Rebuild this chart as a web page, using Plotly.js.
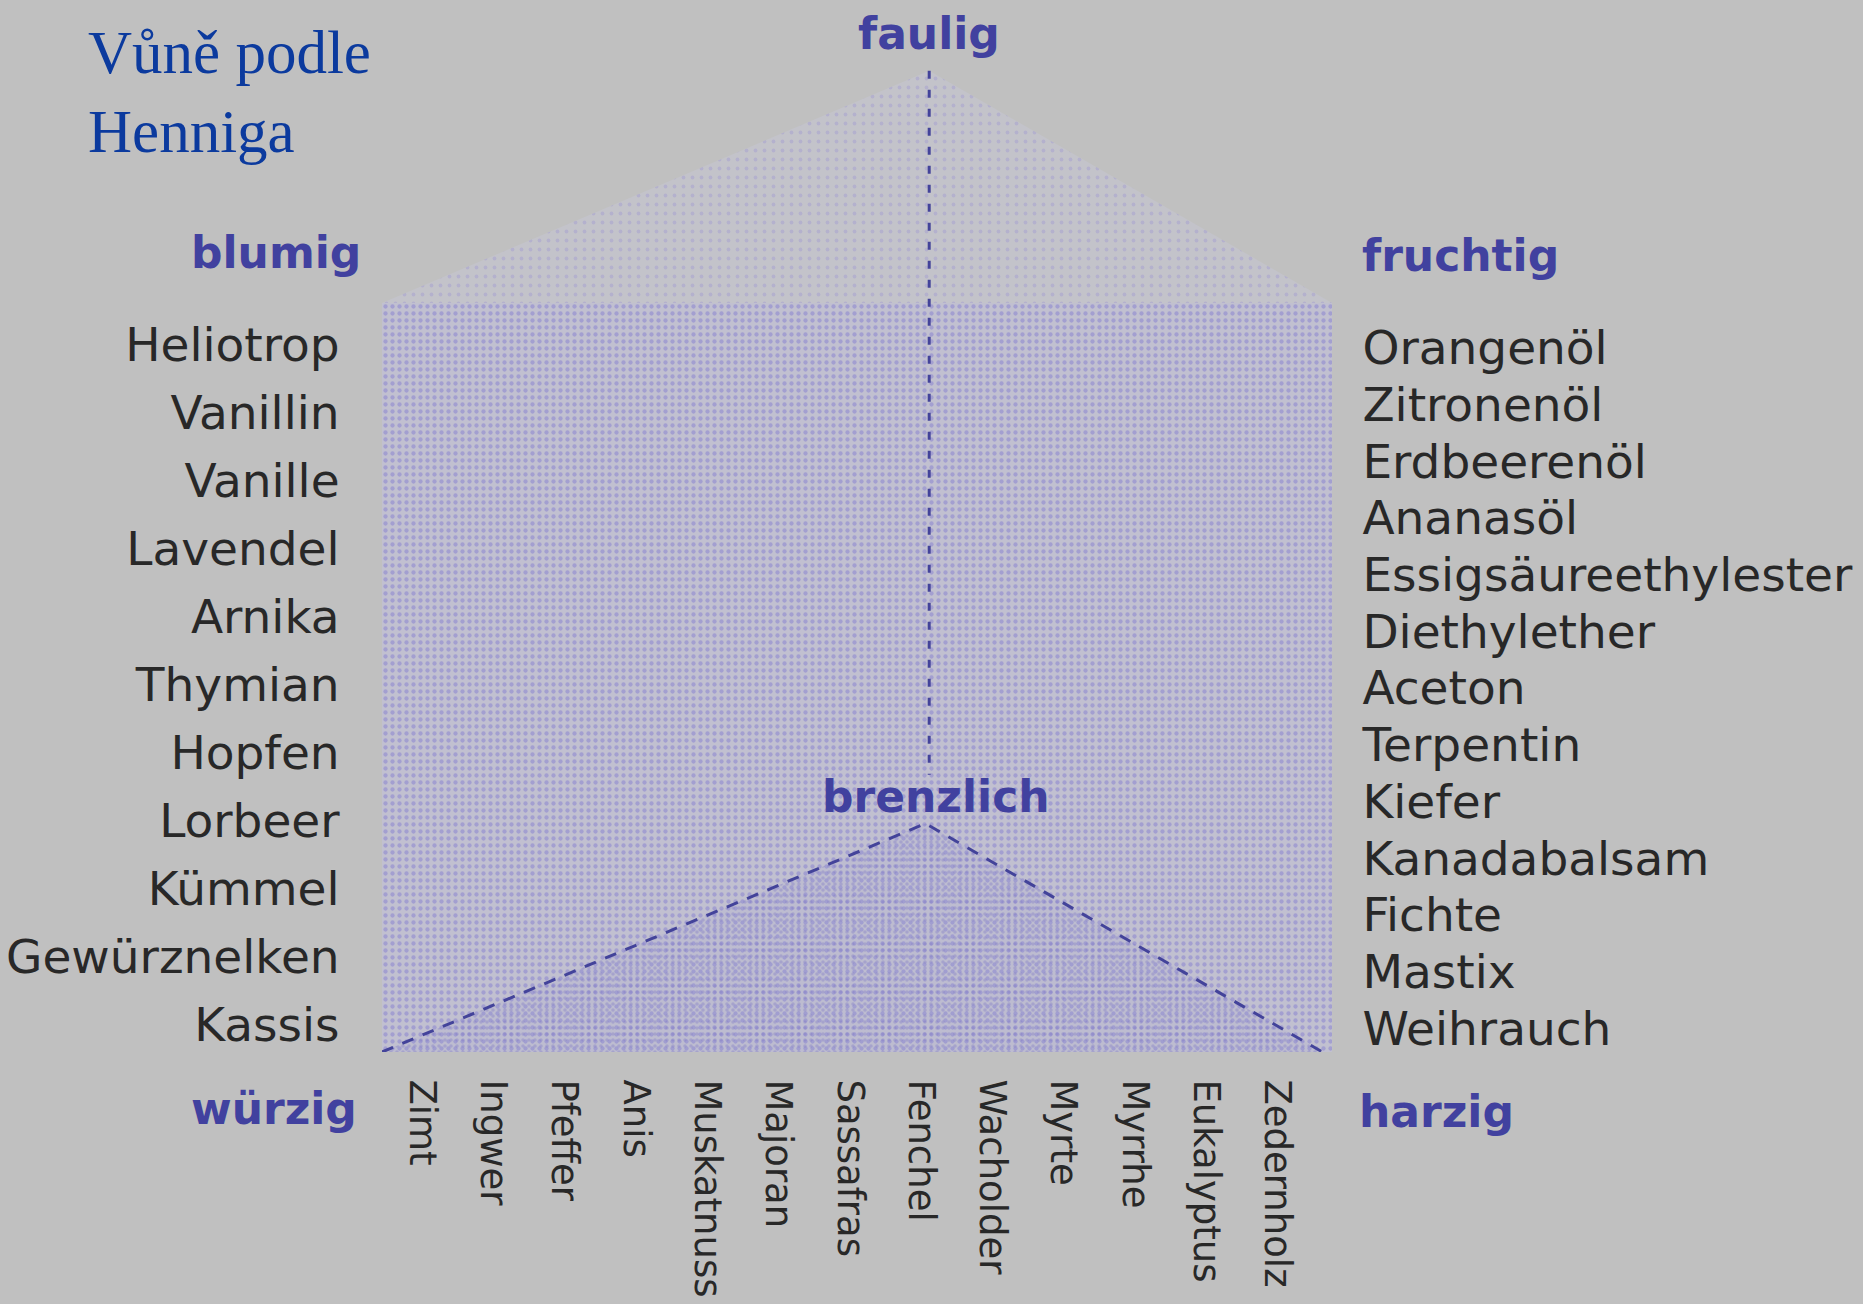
<!DOCTYPE html>
<html>
<head>
<meta charset="utf-8">
<script src="https://cdn.plot.ly/plotly-3.0.1.min.js"></script>
<style>
html, body { margin: 0; padding: 0; background: #c0c0c0; }
#chart { width: 1863px; height: 1304px; }
</style>
</head>
<body>
<div id="chart"></div>
<script>
// ---- content ----
const titleLines = ['Vůně podle', 'Henniga'];
const leftLabels = ['Heliotrop', 'Vanillin', 'Vanille', 'Lavendel', 'Arnika', 'Thymian',
  'Hopfen', 'Lorbeer', 'Kümmel', 'Gewürznelken', 'Kassis'];
const rightLabels = ['Orangenöl', 'Zitronenöl', 'Erdbeerenöl', 'Ananasöl', 'Essigsäureethylester',
  'Diethylether', 'Aceton', 'Terpentin', 'Kiefer', 'Kanadabalsam', 'Fichte', 'Mastix', 'Weihrauch'];
const bottomLabels = ['Zimt', 'Ingwer', 'Pfeffer', 'Anis', 'Muskatnuss', 'Majoran', 'Sassafras',
  'Fenchel', 'Wacholder', 'Myrte', 'Myrrhe', 'Eukalyptus', 'Zedernholz'];
const cornerLabels = ['faulig', 'blumig', 'fruchtig', 'würzig', 'harzig', 'brenzlich'];

// ---- prism geometry (face of the prism = unit square) ----
const faceX = [0, 1, 1, 0, 0];
const faceY = [0, 0, 1, 1, 0];
const roofX = [0, 0.576, 1, 0];
const roofY = [1, 1.31, 1, 1];
const baseX = [0, 0.572, 0.99, 0];
const baseY = [0, 0.305, 0, 0];
const spineX = [0.576, 0.576];
const spineY = [1.31, 0.37];

const W = 1863, H = 1304;
const px = v => v / W;
const py = v => 1 - v / H;

const dashColor = '#43439a';
const boldFont = { family: 'DejaVu Sans', size: 44, color: '#41419f', weight: 'bold' };
const labelColor = '#282828';

const traces = [
  { // face of the prism
    x: faceX, y: faceY, xaxis: 'x3', yaxis: 'y3', mode: 'lines', fill: 'toself',
    line: { width: 0 }, fillcolor: 'rgb(193,192,208)',
    fillpattern: { shape: '.', fgcolor: '#8a82d0', fgopacity: 0.55, size: 7, solidity: 0.3, fillmode: 'overlay' },
    hoverinfo: 'skip'
  },
  { // roof
    x: roofX, y: roofY, xaxis: 'x3', yaxis: 'y3', mode: 'lines', fill: 'toself',
    line: { width: 0 }, fillcolor: 'rgba(196,196,208,0.6)',
    fillpattern: { shape: '.', fgcolor: '#9d97d2', fgopacity: 0.4, size: 9, solidity: 0.14, fillmode: 'overlay' },
    hoverinfo: 'skip'
  },
  { // base triangle (denser)
    x: baseX, y: baseY, xaxis: 'x3', yaxis: 'y3', mode: 'lines', fill: 'toself',
    line: { width: 0 }, fillcolor: 'rgba(140,140,205,0.08)',
    fillpattern: { shape: '.', fgcolor: '#7a74c6', fgopacity: 0.35, size: 6, solidity: 0.28, fillmode: 'overlay' },
    hoverinfo: 'skip'
  },
  { // base triangle edges
    x: baseX.slice(0, 3), y: baseY.slice(0, 3), xaxis: 'x3', yaxis: 'y3', mode: 'lines',
    line: { color: dashColor, width: 3, dash: '12px,10px' }, hoverinfo: 'skip'
  },
  { // vertical spine
    x: spineX, y: spineY, xaxis: 'x3', yaxis: 'y3', mode: 'lines',
    line: { color: dashColor, width: 3, dash: '8px,11px' }, hoverinfo: 'skip'
  },
  { // carries bottom and left labels
    x: bottomLabels, y: bottomLabels.map((_, i) => leftLabels[i % leftLabels.length]),
    xaxis: 'x', yaxis: 'y', mode: 'markers', marker: { opacity: 0 }, hoverinfo: 'skip'
  },
  { // carries right labels
    x: rightLabels.map((_, i) => bottomLabels[i % bottomLabels.length]), y: rightLabels,
    xaxis: 'x', yaxis: 'y2', mode: 'markers', marker: { opacity: 0 }, hoverinfo: 'skip'
  }
];

const hiddenAxis = { showgrid: false, zeroline: false, showline: false, showticklabels: false, ticks: '', fixedrange: true };
const faceDomX = [px(382), px(1332)];
const faceDomY = [1 - 1052 / H, 1 - 303 / H];

const layout = {
  width: W, height: H,
  margin: { l: 0, r: 0, t: 0, b: 0 },
  paper_bgcolor: '#c0c0c0',
  plot_bgcolor: 'rgba(0,0,0,0)',
  showlegend: false,
  title: {
    text: titleLines.join('<br>'),
    x: px(88), xanchor: 'left', xref: 'container',
    y: py(73), yanchor: 'top', yref: 'container',
    font: { family: 'Liberation Serif', size: 61, color: '#0b3a9e' }
  },
  xaxis: {
    domain: faceDomX, anchor: 'y', type: 'category', range: [-0.56, 12.77],
    showgrid: false, zeroline: false, showline: false, fixedrange: true,
    ticks: 'outside', ticklen: 19, tickcolor: 'rgba(0,0,0,0)', tickangle: 90,
    tickfont: { family: 'DejaVu Sans', size: 37, color: labelColor }
  },
  yaxis: {
    domain: faceDomY, anchor: 'x', type: 'category', range: [10.40, -0.61],
    showgrid: false, zeroline: false, showline: false, fixedrange: true,
    ticks: 'outside', ticklen: 32, tickcolor: 'rgba(0,0,0,0)',
    tickfont: { family: 'DejaVu Sans', size: 47, color: labelColor }
  },
  yaxis2: {
    overlaying: 'y', side: 'right', anchor: 'x', type: 'category', range: [12.42, -0.79],
    showgrid: false, zeroline: false, showline: false, fixedrange: true,
    ticks: 'outside', ticklen: 20, tickcolor: 'rgba(0,0,0,0)',
    tickfont: { family: 'DejaVu Sans', size: 47, color: labelColor }
  },
  xaxis3: Object.assign({}, hiddenAxis, { domain: faceDomX, anchor: 'y3', range: [0, 1] }),
  yaxis3: Object.assign({}, hiddenAxis, { domain: [1 - 1052 / H, 1 - 65 / H], anchor: 'x3', range: [0, 987 / 749] }),
  annotations: [
    { text: cornerLabels[0], x: px(929), y: py(33), xanchor: 'center', yanchor: 'middle' },
    { text: cornerLabels[1], x: px(363), y: py(253), xanchor: 'right', yanchor: 'middle' },
    { text: cornerLabels[2], x: px(1360), y: py(255), xanchor: 'left', yanchor: 'middle' },
    { text: cornerLabels[3], x: px(359), y: py(1108), xanchor: 'right', yanchor: 'middle' },
    { text: cornerLabels[4], x: px(1357), y: py(1111), xanchor: 'left', yanchor: 'middle' },
    { text: cornerLabels[5], x: px(936), y: py(796), xanchor: 'center', yanchor: 'middle' }
  ].map(a => Object.assign({ xref: 'paper', yref: 'paper', showarrow: false, font: boldFont }, a))
};

Plotly.newPlot('chart', traces, layout, { displayModeBar: false, staticPlot: true });
</script>
</body>
</html>
